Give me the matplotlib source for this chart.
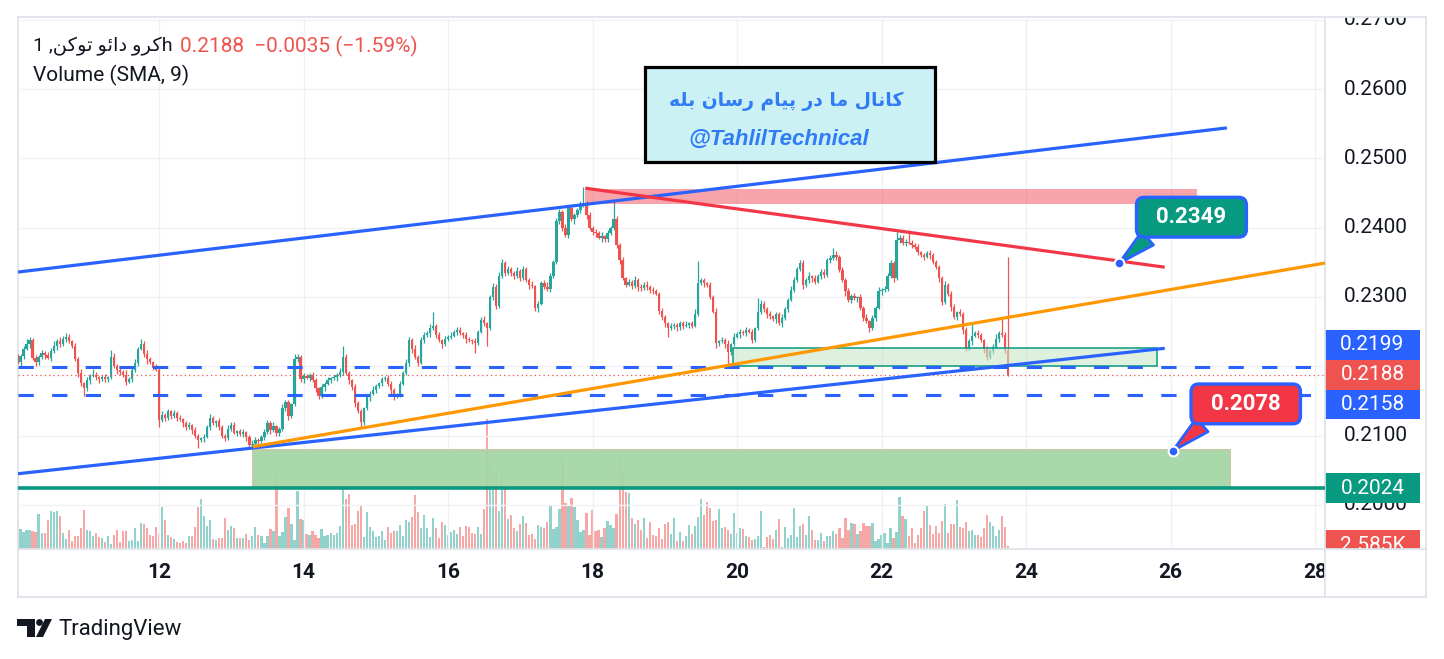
import matplotlib.pyplot as plt
import numpy as np
from matplotlib.patches import Rectangle, Polygon, Circle
from matplotlib.lines import Line2D
from matplotlib.transforms import Affine2D

plt.rcParams['font.family'] = ['Roboto', 'DejaVu Sans']

W, H = 1444, 659

# hourly candles, prices in units of 0.0001
first_open = 2218
start_day = 10.0
closes = [
    2212, 2206, 2215, 2225, 2232, 2238, 2212, 2206, 2214, 2219,
    2216, 2212, 2222, 2230, 2236, 2232, 2240, 2243, 2236, 2230,
    2210, 2190, 2176, 2168, 2180, 2186, 2188, 2184, 2182, 2185,
    2182, 2184, 2214, 2200, 2195, 2192, 2188, 2178, 2182, 2195,
    2205, 2225, 2232, 2218, 2210, 2206, 2198, 2195, 2123, 2130,
    2126, 2135, 2128, 2132, 2126, 2124, 2118, 2112, 2115, 2108,
    2100, 2094, 2096, 2098, 2112, 2125, 2118, 2121, 2112, 2100,
    2097, 2110, 2116, 2104, 2106, 2102, 2105, 2098, 2086, 2088,
    2094, 2092, 2098, 2105, 2118, 2108, 2114, 2104, 2110, 2140,
    2148, 2128, 2145, 2210, 2214, 2181, 2186, 2183, 2188, 2180,
    2168, 2157, 2170, 2175, 2180, 2183, 2184, 2187, 2192, 2214,
    2190, 2180, 2170, 2147, 2135, 2120, 2140, 2155, 2160, 2166,
    2172, 2176, 2181, 2183, 2175, 2166, 2157, 2160, 2175, 2190,
    2205, 2238, 2225, 2214, 2205, 2238, 2245, 2248, 2255, 2258,
    2245, 2238, 2232, 2240, 2242, 2244, 2250, 2253, 2248, 2245,
    2240, 2238, 2236, 2234, 2250, 2267, 2262, 2255, 2300, 2315,
    2287, 2330, 2349, 2335, 2340, 2335, 2330, 2338, 2328, 2340,
    2325, 2318, 2316, 2284, 2290, 2320, 2315, 2312, 2330, 2351,
    2409, 2423, 2400, 2389, 2428, 2412, 2418, 2425, 2433, 2436,
    2418, 2400, 2394, 2392, 2385, 2388, 2383, 2392, 2400, 2413,
    2375, 2353, 2327, 2318, 2322, 2316, 2325, 2315, 2313, 2318,
    2315, 2310, 2308, 2305, 2280, 2271, 2262, 2255, 2258, 2260,
    2256, 2262, 2258, 2260, 2262, 2258, 2276, 2320, 2324, 2320,
    2318, 2300, 2279, 2233, 2236, 2238, 2232, 2221, 2232, 2243,
    2246, 2250, 2248, 2252, 2250, 2238, 2255, 2279, 2290, 2282,
    2275, 2272, 2268, 2275, 2262, 2270, 2282, 2296, 2310, 2325,
    2340, 2349, 2317, 2324, 2330, 2328, 2322, 2330, 2336, 2332,
    2353, 2356, 2361, 2358, 2339, 2325, 2308, 2296, 2302, 2298,
    2300, 2284, 2270, 2265, 2255, 2270, 2284, 2308, 2310, 2312,
    2330, 2349, 2327, 2382, 2385, 2378, 2380, 2378, 2375, 2372,
    2365, 2360, 2358, 2363, 2360, 2350, 2344, 2327, 2293, 2317,
    2305, 2285, 2271, 2278, 2275, 2252, 2226, 2236, 2244, 2248,
    2245, 2238, 2225, 2214, 2222, 2228, 2240, 2248, 2245, 2223,
    2188,
]
wick_up = [
    4, 6, 3, 5, 7, 4, 3, 5, 2, 4, 3, 5, 4, 6, 3, 7, 4, 5, 3, 2,
    4, 3, 6, 2, 5, 3, 8, 4, 2, 3, 4, 2, 10, 5, 3, 4, 2, 6, 3, 4,
    5, 3, 8, 4, 6, 3, 2, 5, 4, 6, 3, 4, 2, 5, 3, 4, 2, 3, 5, 2,
    4, 3, 2, 5, 4, 6, 3, 2, 4, 3, 2, 5, 3, 4, 2, 3, 4, 2, 3, 5,
    4, 2, 3, 5, 4, 3, 6, 2, 3, 5, 4, 3, 2, 8, 4, 3, 5, 3, 2, 4,
    3, 2, 4, 3, 5, 2, 3, 4, 6, 15, 4, 3, 2, 5, 3, 4, 2, 3, 4, 5,
    3, 2, 4, 3, 5, 4, 3, 2, 4, 3, 5, 4, 3, 6, 2, 4, 5, 3, 6, 21,
    3, 5, 2, 4, 3, 6, 2, 4, 3, 2, 4, 3, 2, 5, 3, 4, 6, 2, 3, 5,
    4, 6, 6, 3, 5, 4, 2, 6, 3, 5, 4, 3, 5, 2, 4, 3, 5, 6, 4, 3,
    5, 4, 3, 6, 4, 5, 3, 4, 6, 23, 3, 5, 2, 4, 3, 6, 2, 5, 3, 27,
    4, 3, 5, 2, 4, 3, 6, 2, 4, 3, 5, 2, 4, 3, 2, 4, 3, 2, 4, 3,
    2, 4, 3, 5, 2, 3, 6, 32, 4, 3, 2, 4, 3, 5, 2, 4, 3, 6, 2, 5,
    3, 4, 2, 5, 3, 4, 2, 20, 6, 4, 3, 5, 2, 4, 3, 5, 4, 3, 6, 4,
    3, 5, 4, 3, 6, 2, 4, 3, 5, 4, 3, 4, 9, 5, 3, 4, 2, 5, 3, 4,
    2, 4, 3, 5, 2, 4, 3, 6, 3, 4, 5, 4, 3, 12, 5, 4, 3, 16, 4, 3,
    5, 2, 4, 3, 5, 4, 3, 2, 4, 6, 3, 4, 5, 2, 4, 3, 5, 4, 20, 3,
    4, 3, 2, 5, 3, 4, 6, 3, 22, 4, 135,
]
wick_dn = [
    5, 3, 6, 4, 2, 5, 3, 6, 4, 3, 5, 2, 4, 3, 6, 4, 2, 5, 3, 4,
    3, 5, 4, 11, 3, 5, 2, 4, 6, 3, 4, 5, 3, 2, 6, 4, 3, 5, 2, 4,
    3, 5, 2, 4, 6, 3, 4, 2, 10, 4, 5, 3, 4, 2, 5, 3, 6, 4, 3, 5,
    4, 12, 3, 5, 2, 4, 3, 5, 4, 3, 5, 3, 4, 2, 5, 3, 4, 6, 4, 3,
    2, 5, 3, 4, 2, 5, 3, 4, 5, 3, 4, 6, 3, 2, 4, 3, 5, 2, 4, 3,
    5, 4, 3, 5, 2, 4, 3, 5, 2, 4, 3, 5, 4, 6, 3, 7, 4, 3, 5, 2,
    4, 3, 5, 2, 4, 6, 5, 3, 4, 2, 3, 4, 6, 3, 5, 2, 4, 3, 5, 2,
    4, 3, 5, 2, 4, 3, 2, 5, 3, 4, 6, 3, 4, 15, 3, 2, 4, 25, 3, 4,
    5, 3, 2, 4, 3, 5, 4, 2, 5, 3, 4, 6, 3, 4, 5, 2, 4, 3, 5, 2,
    4, 3, 5, 2, 4, 3, 6, 2, 4, 3, 5, 3, 4, 6, 2, 5, 3, 4, 2, 3,
    4, 5, 3, 4, 2, 5, 3, 6, 4, 3, 5, 4, 3, 2, 5, 4, 6, 12, 3, 4,
    5, 3, 4, 2, 5, 3, 2, 4, 3, 5, 4, 3, 2, 6, 4, 3, 5, 19, 4, 3,
    2, 5, 3, 4, 2, 5, 3, 2, 4, 3, 5, 4, 3, 6, 2, 5, 3, 4, 2, 3,
    4, 2, 5, 3, 4, 6, 3, 2, 4, 5, 3, 4, 2, 5, 3, 4, 6, 3, 4, 2,
    5, 3, 4, 2, 6, 3, 4, 2, 5, 3, 4, 3, 5, 2, 4, 3, 5, 2, 4, 3,
    5, 3, 4, 2, 5, 3, 4, 6, 5, 3, 4, 5, 3, 4, 2, 5, 4, 3, 5, 2,
    4, 3, 6, 5, 3, 4, 2, 5, 3, 4, 2,
]
# volume in thousands
volume_k = [
    22, 28, 20, 17, 19, 19, 18, 17, 35, 16, 16, 29, 38, 37, 38, 33, 16, 10, 19, 8,
    13, 13, 21, 39, 19, 18, 13, 16, 12, 11, 7, 13, 5, 14, 19, 7, 18, 18, 8, 9,
    21, 8, 26, 25, 21, 14, 13, 22, 15, 42, 29, 14, 12, 10, 7, 6, 8, 6, 13, 13,
    22, 42, 50, 33, 23, 29, 10, 9, 11, 11, 31, 19, 23, 21, 11, 11, 11, 15, 9, 13,
    22, 14, 13, 6, 13, 20, 18, 72, 13, 17, 32, 41, 25, 9, 58, 30, 29, 15, 14, 18,
    14, 11, 20, 13, 14, 16, 14, 16, 23, 62, 50, 55, 24, 25, 38, 44, 12, 37, 22, 18,
    12, 13, 18, 9, 22, 16, 18, 18, 24, 13, 29, 27, 32, 54, 37, 21, 34, 21, 12, 31,
    21, 11, 27, 24, 14, 17, 19, 15, 22, 13, 23, 22, 16, 15, 22, 15, 40, 130, 85, 73,
    76, 38, 82, 64, 30, 34, 21, 18, 25, 33, 26, 14, 15, 10, 24, 22, 21, 27, 43, 20,
    22, 40, 90, 46, 43, 51, 42, 29, 17, 19, 36, 14, 39, 18, 19, 12, 21, 28, 24, 21,
    35, 90, 77, 57, 56, 31, 25, 29, 19, 31, 11, 27, 14, 13, 21, 10, 25, 27, 15, 31,
    8, 17, 8, 13, 24, 15, 23, 32, 50, 34, 47, 41, 28, 29, 40, 21, 22, 19, 15, 36,
    16, 21, 20, 13, 12, 9, 10, 13, 38, 2, 12, 14, 10, 19, 30, 2, 22, 11, 14, 41,
    12, 23, 25, 14, 33, 19, 9, 9, 16, 8, 13, 13, 18, 15, 21, 11, 31, 19, 26, 25,
    15, 18, 26, 23, 23, 26, 8, 10, 14, 16, 6, 21, 11, 17, 52, 33, 30, 13, 21, 6,
    14, 21, 38, 43, 24, 15, 23, 16, 28, 45, 16, 25, 25, 49, 22, 21, 27, 18, 19, 14,
    14, 12, 21, 34, 27, 23, 13, 19, 33, 22, 2.585,
]

# drawings (day, price)
channel_top = [(10.048, 0.2336), (26.78, 0.2544)]
channel_bottom = [(10.048, 0.2045), (25.92, 0.2226)]
trend_orange = [(13.30, 0.2084), (28.14, 0.2349)]
trend_red = [(17.90, 0.2457), (25.92, 0.2343)]
zone_red = (17.90, 26.37, 0.2434, 0.2456)
zone_green = (13.30, 26.82, 0.2026, 0.2079)
zone_support = (19.94, 25.81, 0.2200, 0.2226)
dashed_levels = [0.2199, 0.2158]
last_price = 0.2188
teal_level = 0.2024
callouts = [(25.29, 0.2349, '#089981'), (26.03, 0.2078, '#f23645')]

price_ticks = [0.20, 0.21, 0.22, 0.23, 0.24, 0.25, 0.26, 0.27]
hidden_ticks = [0.22]   # covered by the price tags
day_ticks = [12, 14, 16, 18, 20, 22, 24, 26, 28]

title_fa = 'کانال ما در پیام رسان بله'
symbol_fa = 'کرو دائو توکن'

FORMS = {
    'ا': ('\uFE8D', '\uFE8E', None, None),
    'ب': ('\uFE8F', '\uFE90', '\uFE91', '\uFE92'),
    'پ': ('\uFB56', '\uFB57', '\uFB58', '\uFB59'),
    'ت': ('\uFE95', '\uFE96', '\uFE97', '\uFE98'),
    'ئ': ('\uFE89', '\uFE8A', '\uFE8B', '\uFE8C'),
    'د': ('\uFEA9', '\uFEAA', None, None),
    'ر': ('\uFEAD', '\uFEAE', None, None),
    'س': ('\uFEB1', '\uFEB2', '\uFEB3', '\uFEB4'),
    'ک': ('\uFB8E', '\uFB8F', '\uFB90', '\uFB91'),
    'ل': ('\uFEDD', '\uFEDE', '\uFEDF', '\uFEE0'),
    'م': ('\uFEE1', '\uFEE2', '\uFEE3', '\uFEE4'),
    'ن': ('\uFEE5', '\uFEE6', '\uFEE7', '\uFEE8'),
    'ه': ('\uFEE9', '\uFEEA', '\uFEEB', '\uFEEC'),
    'و': ('\uFEED', '\uFEEE', None, None),
    'ی': ('\uFBFC', '\uFBFD', '\uFBFE', '\uFBFF'),
}


def shape_fa(s):
    # join letters and reverse for left-to-right drawing
    out = []
    for i, ch in enumerate(s):
        f = FORMS.get(ch)
        if f is None:
            out.append(ch)
            continue
        prev = FORMS.get(s[i - 1]) if i > 0 else None
        nxt = FORMS.get(s[i + 1]) if i + 1 < len(s) else None
        jp = prev is not None and prev[2] is not None
        jn = nxt is not None and f[2] is not None
        out.append(f[3] if jp and jn else f[1] if jp else f[2] if jn else f[0])
    return ''.join(reversed(out))


TEAL, RED, BLUE = '#26a69a', '#ef5350', '#2962ff'
DARK = '#131722'
BORDER = '#e0e3eb'

fig = plt.figure(figsize=(W / 100, H / 100), dpi=100)
px = Affine2D().scale(1 / W, -1 / H).translate(0, 1) + fig.transFigure


def box(x0, y0, x1, y1):
    return [x0 / W, 1 - y1 / H, (x1 - x0) / W, (y1 - y0) / H]


xlim = (10.048, 28.138)
ylim = (0.19364, 0.27040)

ax = fig.add_axes(box(18, 17, 1325, 549))
vax = ax.twinx()
ax.set_zorder(2)
vax.set_zorder(1)
ax.patch.set_visible(False)
ax.set_xlim(*xlim)
ax.set_ylim(*ylim)
ax.set_xticks(day_ticks)
ax.set_yticks(price_ticks)
ax.grid(color='#f0f1f4', lw=1)
ax.tick_params(length=0, labelleft=False, labelbottom=False, labelright=False)
for s in ax.spines.values():
    s.set_visible(False)
vax.axis('off')
vax.set_ylim(0, 532)

c = np.array(closes) / 10000
o = np.r_[first_open / 10000, c[:-1]]
hi = np.maximum(o, c) + np.array(wick_up) / 10000
lo = np.minimum(o, c) - np.array(wick_dn) / 10000
t = start_day + np.arange(len(c)) / 24
up = c >= o
cols = np.where(up, TEAL, RED)

vax.bar(t, volume_k, width=0.031, color=cols, alpha=0.5, lw=0)
ax.vlines(t, lo, hi, colors=cols, lw=0.9, zorder=2)
ax.bar(t, np.maximum(np.abs(c - o), 0.00008), bottom=np.minimum(o, c),
       width=0.032, color=cols, lw=0, zorder=2.1)

# zones
x0, x1, y0, y1 = zone_green
ax.add_patch(Rectangle((x0, y0), x1 - x0, y1 - y0, fc='#a5d6a7', ec='#c2caa6',
                       lw=1.5, alpha=0.95, zorder=3))
x0, x1, y0, y1 = zone_red
ax.add_patch(Rectangle((x0, y0), x1 - x0, y1 - y0, fc='#f23645', alpha=0.45,
                       lw=0, zorder=3))
x0, x1, y0, y1 = zone_support
ax.add_patch(Rectangle((x0, y0), x1 - x0, y1 - y0, fc='#c8e6c9', ec='none',
                       alpha=0.6, zorder=3))
ax.add_patch(Rectangle((x0, y0), x1 - x0, y1 - y0, fc='none', ec='#089981',
                       lw=1.1, zorder=3.1))

# levels
for lv in dashed_levels:
    ax.axhline(lv, color=BLUE, lw=2.2, ls=(0, (5, 6)), zorder=3.5)
ax.axhline(last_price, color=RED, lw=0.9, ls=(0, (1, 2.5)), zorder=3.4)
ax.axhline(teal_level, color='#089981', lw=2.6, zorder=3.5)

# trend lines
for pts, col in [(channel_top, BLUE), (channel_bottom, BLUE),
                 (trend_orange, '#ff9800'), (trend_red, '#f23645')]:
    (xa, ya), (xb, yb) = pts
    ax.plot([xa, xb], [ya, yb], color=col, lw=2.3, solid_capstyle='butt', zorder=4)

# callouts
for (cx, cy, fc), (dx, dy) in zip(callouts, [(52, 33), (52.6, 33.8)]):
    ax.annotate(f'  {cy:.4f}  ', xy=(cx, cy), xytext=(dx, dy),
                textcoords='offset points', ha='center', va='center',
                color='white', fontsize=16, fontweight='bold', zorder=7,
                bbox=dict(boxstyle='round,pad=0.4,rounding_size=0.35', fc=fc,
                          ec=BLUE, lw=2.4),
                arrowprops=dict(arrowstyle='wedge,tail_width=0.8,shrink_factor=0.5',
                                fc=fc, ec=BLUE, lw=2, relpos=(0.15, 0.0),
                                shrinkA=0, shrinkB=0))
    ax.plot(cx, cy, 'o', ms=7, mfc=BLUE, mec='white', mew=1.5, zorder=8)

# channel text box
ax.add_patch(Rectangle((18.727, 0.2495), 4.013, 0.0137, fc='#ccf1f5', ec='black',
                       lw=2.3, zorder=5))
ax.text(20.68, 0.2583, shape_fa(title_fa), ha='center', va='center',
        color='#2f7cf6', fontsize=13.5, fontweight='bold', family=['DejaVu Sans'],
        zorder=6)
ax.text(20.58, 0.2528, '@TahlilTechnical', ha='center', va='center',
        color='#2f7cf6', fontsize=16, fontweight='bold', style='italic',
        family=['Liberation Sans'], zorder=6)

# header
fig.text(33 / W, 1 - 46 / H, '1 ,' + shape_fa(symbol_fa) + 'h', ha='left',
         va='center', fontsize=14, color=DARK)
fig.text(180 / W, 1 - 46 / H, '0.2188  \u22120.0035 (\u22121.59%)', ha='left',
         va='center', fontsize=15, color=RED)
fig.text(33 / W, 1 - 75 / H, 'Volume (SMA, 9)', ha='left', va='center',
         fontsize=15, color=DARK)

# price scale
pax = fig.add_axes(box(1325, 17, 1426, 549))
pax.set_xlim(0, 1)
pax.set_ylim(*ylim)
pax.axis('off')
for p in price_ticks:
    if p in hidden_ticks:
        continue
    pax.text(0.5, p, f'{p:.4f}', ha='center', va='center', fontsize=15,
             color=DARK, clip_on=True)
tag_h = 0.0043
tags = [(0.2231, '0.2199', BLUE), (last_price, '0.2188', RED),
        (0.2145, '0.2158', BLUE), (teal_level, '0.2024', '#089981'),
        (0.1942, '2.585K', RED)]
for yc, label, col in tags:
    pax.add_patch(Rectangle((0, yc - tag_h / 2), 0.94, tag_h, fc=col, lw=0,
                            zorder=3, clip_on=True))
    pax.text(0.47, yc, label, ha='center', va='center', fontsize=15,
             color='white', zorder=4, clip_on=True)

# time scale
tax = fig.add_axes(box(18, 549, 1325, 597))
tax.set_xlim(*xlim)
tax.set_ylim(0, 1)
tax.axis('off')
for d in day_ticks:
    tax.text(d, 0.5, str(d), ha='center', va='center', fontsize=15,
             fontweight='bold', color=DARK, clip_on=True)

# frame
for xs, ys in [([18, 1426], [17, 17]), ([18, 1426], [597, 597]),
               ([18, 18], [17, 597]), ([1426, 1426], [17, 597]),
               ([1325, 1325], [17, 597]), ([18, 1426], [549, 549])]:
    fig.add_artist(Line2D(xs, ys, transform=px, color=BORDER, lw=1.3))

# logo
fig.add_artist(Polygon([(17, 619), (35, 619), (35, 637), (27, 637), (27, 626),
                        (17, 626)], closed=True, transform=px, fc=DARK, lw=0))
fig.add_artist(Circle((39.5, 622.5), 3.4, transform=px, fc=DARK, lw=0))
fig.add_artist(Polygon([(45, 619), (52, 619), (43, 637), (36, 637)], closed=True,
                       transform=px, fc=DARK, lw=0))
fig.text(58 / W, 1 - 629 / H, 'TradingView', ha='left', va='center',
         fontsize=16, color=DARK)

fig.savefig('out.png', dpi=100, facecolor='white')
